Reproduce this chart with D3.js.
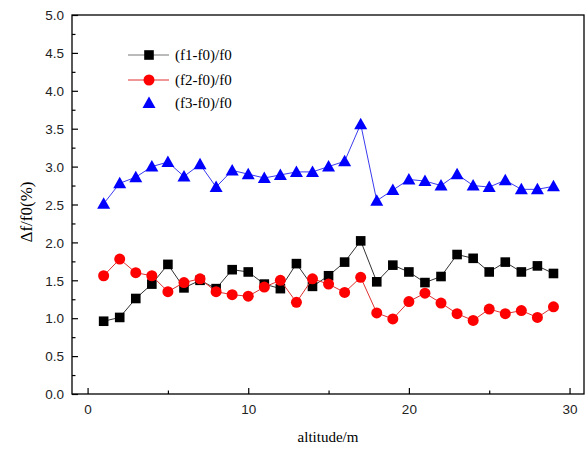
<!DOCTYPE html>
<html><head><meta charset="utf-8">
<script src="https://cdn.jsdelivr.net/npm/d3@7"></script>
<style>body{margin:0;background:#fff}</style>
</head><body>
<svg id="c" width="587" height="449"></svg>
<script>
const altitude = [1,2,3,4,5,6,7,8,9,10,11,12,13,14,15,16,17,18,19,20,21,22,23,24,25,26,27,28,29];
const f1 = [0.96,1.01,1.26,1.45,1.71,1.40,1.50,1.39,1.64,1.61,1.45,1.39,1.72,1.42,1.56,1.74,2.02,1.48,1.70,1.61,1.47,1.55,1.84,1.79,1.61,1.74,1.61,1.69,1.59];
const f2 = [1.56,1.78,1.60,1.56,1.35,1.47,1.52,1.35,1.31,1.29,1.41,1.50,1.21,1.52,1.45,1.34,1.54,1.07,0.99,1.22,1.33,1.20,1.06,0.97,1.12,1.06,1.10,1.01,1.15];
const f3 = [2.51,2.78,2.86,3.00,3.06,2.87,3.03,2.73,2.95,2.90,2.85,2.89,2.93,2.93,3.00,3.07,3.56,2.55,2.69,2.83,2.81,2.75,2.90,2.75,2.73,2.82,2.70,2.70,2.74];
const seriesNames = ["(f1-f0)/f0","(f2-f0)/f0","(f3-f0)/f0"];
const xTicks = [0,10,20,30];
const yTicks = [0,0.5,1,1.5,2,2.5,3,3.5,4,4.5,5];

const svg = d3.select("#c");
const L = 72, R = 584, T = 15, B = 394;
const x = d3.scaleLinear().domain([-0.97, 30.9]).range([L, R]);
const y = d3.scaleLinear().domain([0, 5]).range([B, T]);

// frame
svg.append("rect").attr("x", L).attr("y", T).attr("width", R - L).attr("height", B - T)
  .attr("fill", "none").attr("stroke", "#000").attr("stroke-width", 1.3);

// x axis
const gx = svg.append("g").attr("transform", `translate(0,${B})`);
gx.call(d3.axisBottom(x).tickValues(d3.range(0, 31, 5)).tickSize(-6).tickFormat(""));
gx.selectAll(".tick line").attr("stroke-width", 1.2).attr("y2", d => d % 10 === 0 ? -6 : -3.5);
gx.select(".domain").remove();
gx.selectAll(".tick").filter(d => xTicks.includes(d)).append("text")
  .attr("y", 20).attr("fill", "#222").attr("text-anchor", "middle")
  .style("font-family", "Liberation Sans, Arial, sans-serif").style("font-size", "13.5px")
  .text(d => d);

// y axis
const gy = svg.append("g").attr("transform", `translate(${L},0)`);
gy.call(d3.axisLeft(y).tickValues(d3.range(0, 5.01, 0.25)).tickSize(-6).tickFormat(""));
gy.selectAll(".tick line").attr("stroke-width", 1.2).attr("x2", d => Math.abs(d * 2 - Math.round(d * 2)) < 1e-6 ? 6 : 3.5);
gy.select(".domain").remove();
gy.selectAll(".tick").filter(d => yTicks.some(t => Math.abs(t - d) < 1e-6)).append("text")
  .attr("x", -8).attr("dy", "0.35em").attr("fill", "#222").attr("text-anchor", "end")
  .style("font-family", "Liberation Sans, Arial, sans-serif").style("font-size", "13.5px")
  .text(d => d.toFixed(1));

// axis titles
svg.append("text").attr("x", (L + R) / 2).attr("y", 442).attr("text-anchor", "middle")
  .style("font-family", "Liberation Serif, Times New Roman, serif").style("font-size", "15px")
  .text("altitude/m");
svg.append("text").attr("transform", "translate(32,212) rotate(-90)").attr("text-anchor", "middle")
  .style("font-family", "Liberation Serif, Times New Roman, serif").style("font-size", "17px")
  .text("Δf/f0(%)");

const line = d3.line().x((d, i) => x(altitude[i])).y(d => y(d));

function drawSeries(vals, color, lineColor, shape) {
  svg.append("path").datum(vals).attr("d", line).attr("fill", "none")
    .attr("stroke", lineColor).attr("stroke-width", 1);
  const g = svg.append("g");
  vals.forEach((v, i) => drawMarker(g, x(altitude[i]), y(v), color, shape));
}
function drawMarker(g, cx, cy, color, shape) {
  if (shape === "square") {
    g.append("rect").attr("x", cx - 4.8).attr("y", cy - 4.8).attr("width", 9.6).attr("height", 9.6).attr("fill", color);
  } else if (shape === "circle") {
    g.append("circle").attr("cx", cx).attr("cy", cy).attr("r", 5.5).attr("fill", color);
  } else {
    g.append("path").attr("d", `M${cx},${cy - 6.5}L${cx + 6.5},${cy + 5}L${cx - 6.5},${cy + 5}Z`).attr("fill", color);
  }
}

drawSeries(f1, "#000000", "#333333", "square");
drawSeries(f2, "#ff0000", "#e03030", "circle");
drawSeries(f3, "#0000ff", "#3a3af0", "triangle");

// legend
const lg = svg.append("g");
const legendRows = [
  {name: seriesNames[0], color: "#000", lc: "#777", shape: "square", line: true, yy: 55},
  {name: seriesNames[1], color: "#ff0000", lc: "#e03030", shape: "circle", line: true, yy: 80},
  {name: seriesNames[2], color: "#0000ff", lc: "#00f", shape: "triangle", line: false, yy: 103}
];
legendRows.forEach(r => {
  if (r.line) lg.append("line").attr("x1", 128).attr("x2", 169).attr("y1", r.yy).attr("y2", r.yy).attr("stroke", r.lc).attr("stroke-width", 1);
  drawMarker(lg, 149, r.yy, r.color, r.shape);
  lg.append("text").attr("x", 175).attr("y", r.yy).attr("dy", "0.35em")
    .style("font-family", "Liberation Serif, Times New Roman, serif").style("font-size", "15px")
    .text(r.name);
});
</script>
</body></html>
